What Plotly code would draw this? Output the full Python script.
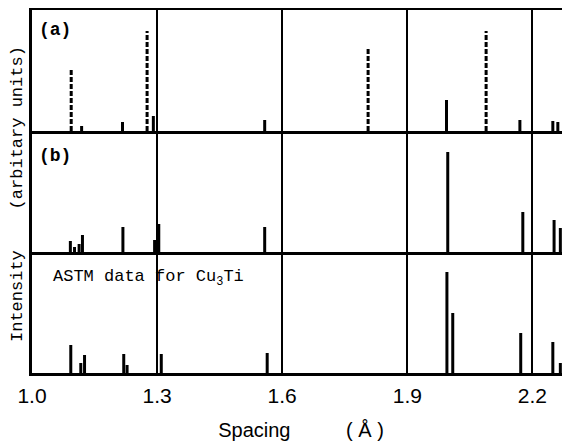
import plotly.graph_objects as go
from plotly.subplots import make_subplots

# ---- data (spacing in Å, intensity in arbitrary units) ----
a_dash_d = [1.094, 1.276, 1.806, 2.089]
a_dash_h = [63, 100, 82, 100]
a_solid_d = [1.119, 1.217, 1.291, 1.558, 1.994, 2.170, 2.249, 2.261]
a_solid_h = [5, 9, 15, 11, 31, 11, 10, 9]
b_d = [1.092, 1.102, 1.113, 1.121, 1.218, 1.294, 1.304, 1.558, 1.997, 2.177, 2.252, 2.267]
b_h = [11, 5, 8, 17, 25, 12, 28, 25, 100, 40, 32, 24]
c_d = [1.093, 1.117, 1.126, 1.220, 1.228, 1.310, 1.564, 1.995, 2.009, 2.172, 2.249, 2.267]
c_h = [28, 10, 18, 19, 8, 19, 20, 101, 60, 40, 31, 10]
tick_vals = [1.0, 1.3, 1.6, 1.9, 2.2]
tick_text = ["1.0", "1.3", "1.6", "1.9", "2.2"]
panel_labels = ["(a)", "(b)"]

# page body has an 8px margin; size the figure so it fills the window
OFF = 8
W, Hfig = 570 - OFF, 448 - OFF
L, R, T, B = 32 - OFF, 0, 10 - OFF, 75
PW, PH = W - L - R, Hfig - T - B


def stems(d, h):
    xs, ys = [], []
    for xi, yi in zip(d, h):
        xs += [xi, xi, None]
        ys += [0, yi, None]
    return xs, ys


fig = make_subplots(rows=3, cols=1, shared_xaxes=True, vertical_spacing=0)

solid = dict(color="black", width=3)
dashed = dict(color="black", width=3, dash="5px,2px")

x, y = stems(a_dash_d, a_dash_h)
fig.add_trace(go.Scatter(x=x, y=y, mode="lines", line=dashed, hoverinfo="skip"), row=1, col=1)
x, y = stems(a_solid_d, a_solid_h)
fig.add_trace(go.Scatter(x=x, y=y, mode="lines", line=solid, hoverinfo="skip"), row=1, col=1)
x, y = stems(b_d, b_h)
fig.add_trace(go.Scatter(x=x, y=y, mode="lines", line=solid, hoverinfo="skip"), row=2, col=1)
x, y = stems(c_d, c_h)
fig.add_trace(go.Scatter(x=x, y=y, mode="lines", line=solid, hoverinfo="skip"), row=3, col=1)

for r in (1, 2, 3):
    fig.update_xaxes(
        range=[1.0, 1.0 + PW / 417.0], tickvals=tick_vals, ticktext=tick_text,
        showgrid=True, gridcolor="black", gridwidth=1.5,
        showline=True, linecolor="black", linewidth=2.5,
        mirror=(r == 1), ticks="", zeroline=False,
        showticklabels=(r == 3), row=r, col=1,
    )
    fig.update_yaxes(
        range=[0, 121], showgrid=False, zeroline=False, showticklabels=False,
        showline=True, linecolor="black", linewidth=2.5, ticks="", row=r, col=1,
    )

fig.update_xaxes(
    tickfont=dict(family="Liberation Sans", size=21, color="black"),
    ticklabelstandoff=2,
    title=dict(text="Spacing" + "\u00a0" * 10 + "(\u00a0Å\u00a0)",
               font=dict(family="Liberation Sans", size=20, color="black"),
               standoff=18),
    row=3, col=1,
)


def px(xp, yp):
    # reference-window pixel -> paper coords
    return (xp - OFF - L) / PW, 1 - (yp - OFF - T) / PH


ann = []
for lbl, ypx in zip(panel_labels, [30, 156]):
    xx, yy = px(37, ypx)
    ann.append(dict(text="<b>" + lbl + "</b>", x=xx, y=yy, xref="paper", yref="paper",
                    xanchor="left", yanchor="middle", showarrow=False,
                    font=dict(family="Liberation Mono", size=18, color="black")))
xx, yy = px(51, 278)
ann.append(dict(text="ASTM data for Cu<sub>3</sub>Ti", x=xx, y=yy, xref="paper", yref="paper",
                xanchor="left", yanchor="middle", showarrow=False,
                font=dict(family="Liberation Mono", size=17, color="black")))
xx, yy = px(17, 194)
ann.append(dict(text="Intensity" + "\u00a0" * 4 + "(arbitary units)", x=xx, y=yy,
                xref="paper", yref="paper", textangle=-90,
                xanchor="center", yanchor="middle", showarrow=False,
                font=dict(family="Liberation Mono", size=17, color="black")))

fig.update_layout(
    width=W, height=Hfig, margin=dict(l=L, r=R, t=T, b=B),
    paper_bgcolor="white", plot_bgcolor="white", showlegend=False,
    annotations=ann,
)

fig.write_html("out.html")
